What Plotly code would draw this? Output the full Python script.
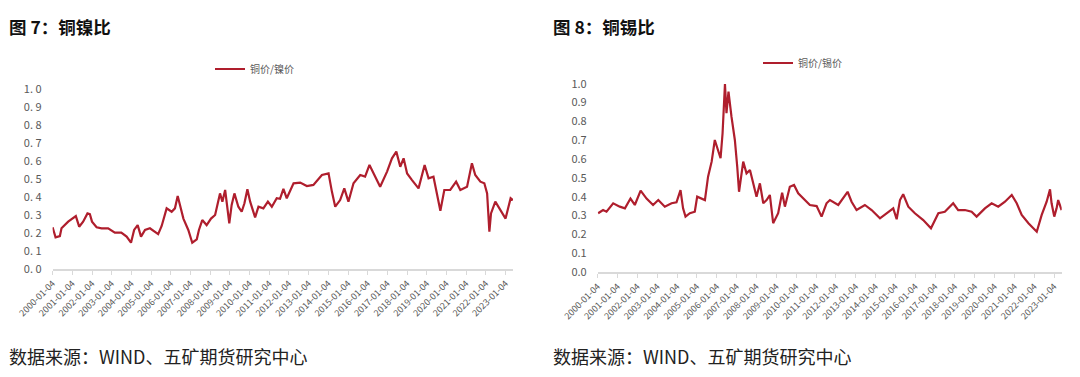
import plotly.graph_objects as go

# ---------------- data ----------------
ni_dates = ["2000-01-04","2000-02-28","2000-05-18","2000-06-17","2000-10-19","2001-03-10","2001-05-11","2001-07-23",
            "2001-10-12","2001-11-25","2002-01-04","2002-03-30","2002-07-01","2002-10-30","2003-03-04","2003-07-01",
            "2003-10-08","2003-12-28","2004-02-24","2004-04-30","2004-07-01","2004-09-13","2004-12-13","2005-05-15",
            "2005-07-19","2005-10-19","2006-01-20","2006-03-22","2006-05-12","2006-06-25","2006-08-26","2006-11-25",
            "2007-02-06","2007-05-01","2007-06-10","2007-08-11","2007-10-31","2008-01-20","2008-04-05","2008-07-05",
            "2008-08-18","2008-10-08","2008-11-25","2008-12-24","2009-02-06","2009-03-29","2009-06-10","2009-08-11",
            "2009-10-01","2009-11-25","2010-01-15","2010-04-17","2010-06-18","2010-09-17","2010-12-10","2011-02-21",
            "2011-05-23","2011-07-23","2011-09-24","2011-11-25","2012-03-30","2012-07-31","2012-12-02","2013-04-02",
            "2013-09-07","2014-01-08","2014-03-11","2014-05-12","2014-08-11","2014-10-27","2015-01-12","2015-04-16",
            "2015-08-18","2015-11-17","2016-02-06","2016-04-20","2016-08-22","2016-12-28","2017-03-29","2017-06-18",
            "2017-08-30","2017-10-31","2018-01-04","2018-04-05","2018-08-04","2018-11-25","2019-02-06","2019-05-08",
            "2019-07-13","2019-09-13","2019-11-25","2020-03-14","2020-07-01","2020-09-17","2021-01-20","2021-04-20",
            "2021-06-21","2021-09-24","2021-12-06","2022-01-27","2022-03-10","2022-04-09","2022-06-28","2022-10-01",
            "2023-01-04","2023-04-08","2023-05-22"]
ni_ratio = [0.232,0.176,0.183,0.226,0.263,0.294,0.235,0.263,
            0.309,0.305,0.263,0.232,0.226,0.226,0.202,0.202,
            0.180,0.146,0.217,0.244,0.180,0.217,0.226,0.194,
            0.239,0.337,0.318,0.337,0.406,0.356,0.280,0.217,
            0.146,0.165,0.217,0.272,0.244,0.280,0.300,0.420,
            0.374,0.439,0.318,0.254,0.356,0.420,0.346,0.318,
            0.365,0.443,0.374,0.287,0.346,0.337,0.374,0.346,
            0.393,0.390,0.445,0.393,0.476,0.480,0.461,0.467,
            0.522,0.531,0.430,0.346,0.383,0.448,0.374,0.476,
            0.522,0.513,0.578,0.531,0.457,0.541,0.615,0.652,
            0.568,0.615,0.531,0.494,0.448,0.578,0.504,0.513,
            0.411,0.324,0.439,0.439,0.485,0.439,0.457,0.587,
            0.522,0.485,0.476,0.420,0.207,0.309,0.374,0.328,
            0.280,0.393,0.383]

sn_dates = ["2000-01-12","2000-04-12","2000-06-14","2000-10-15","2001-02-13","2001-05-19","2001-08-29","2001-11-17",
            "2002-03-04","2002-06-21","2002-10-19","2003-01-23","2003-05-23","2003-09-24","2003-12-24","2004-03-07",
            "2004-04-23","2004-06-07","2004-08-26","2004-11-25","2005-01-08","2005-03-29","2005-05-30","2005-07-27",
            "2005-10-01","2005-11-28","2006-01-20","2006-03-14","2006-04-20","2006-06-03","2006-07-01","2006-08-07",
            "2006-10-01","2006-12-02","2007-01-15","2007-02-17","2007-05-05","2007-07-05","2007-09-06","2007-11-03",
            "2008-01-05","2008-03-07","2008-05-08","2008-07-08","2008-09-06","2008-11-06","2009-02-06","2009-04-20",
            "2009-06-10","2009-09-09","2009-11-25","2010-02-10","2010-05-12","2010-09-13","2011-01-15","2011-04-16",
            "2011-07-16","2011-09-17","2012-02-17","2012-05-19","2012-08-07","2012-10-19","2013-01-19","2013-06-21",
            "2013-10-23","2014-03-26","2014-07-27","2014-11-25","2015-01-27","2015-03-29","2015-05-27","2015-08-29",
            "2015-12-28","2016-05-30","2016-10-19","2017-03-04","2017-07-01","2017-12-02","2018-03-04","2018-07-05",
            "2018-11-06","2019-02-06","2019-07-09","2019-11-10","2020-03-10","2020-07-12","2020-11-14","2021-02-13",
            "2021-05-16","2021-09-17","2022-02-17","2022-05-19","2022-08-18","2022-10-19","2022-11-17","2023-01-05",
            "2023-02-17","2023-03-18","2023-05-20"]
sn_ratio = [0.312,0.329,0.320,0.365,0.347,0.338,0.390,0.356,
            0.432,0.390,0.356,0.382,0.347,0.365,0.370,0.435,
            0.338,0.294,0.312,0.320,0.400,0.390,0.382,0.506,
            0.586,0.701,0.648,0.604,0.737,0.998,0.843,0.958,
            0.825,0.701,0.559,0.426,0.586,0.524,0.542,0.471,
            0.400,0.471,0.365,0.382,0.409,0.259,0.312,0.421,
            0.347,0.453,0.462,0.418,0.390,0.356,0.350,0.294,
            0.365,0.382,0.356,0.390,0.426,0.373,0.329,0.356,
            0.329,0.285,0.312,0.338,0.280,0.382,0.413,0.347,
            0.312,0.276,0.232,0.312,0.320,0.365,0.329,0.329,
            0.320,0.294,0.338,0.365,0.347,0.373,0.409,0.365,
            0.303,0.259,0.214,0.303,0.373,0.439,0.365,0.294,
            0.338,0.382,0.329]

tick_dates = ["%d-01-04" % y for y in range(2000, 2024)]
tick_labels = ["%d-01-04" % y for y in range(2000, 2024)]
y_vals = [0.0, 0.1, 0.2, 0.3, 0.4, 0.5, 0.6, 0.7, 0.8, 0.9, 1.0]
y_text_left = ["0. 0","0. 1","0. 2","0. 3","0. 4","0. 5","0. 6","0. 7","0. 8","0. 9","1. 0"]
y_text_right = ["0.0","0.1","0.2","0.3","0.4","0.5","0.6","0.7","0.8","0.9","1.0"]

name_ni = "铜价/镍价"
name_sn = "铜价/锡价"
title_l = "<b>图 7：铜镍比</b>"
title_r = "<b>图 8：铜锡比</b>"
source = "数据来源：WIND、五矿期货研究中心"

# ---------------- figure ----------------
# the page body has an 8px margin, so the figure is 8px smaller and
# every screen position below is given in window pixels
OFF = 8
W, H = 1080 - OFF, 377 - OFF
RED = "#AF1E2D"
GRAY = "#595959"
FONT = "Noto Sans CJK SC"

fig = go.Figure()
fig.add_trace(go.Scatter(x=ni_dates, y=ni_ratio, mode="lines", name=name_ni,
                         line=dict(color=RED, width=2.2), xaxis="x", yaxis="y", legend="legend"))
fig.add_trace(go.Scatter(x=sn_dates, y=sn_ratio, mode="lines", name=name_sn,
                         line=dict(color=RED, width=2.2), xaxis="x2", yaxis="y2", legend="legend2"))

def px(v):
    return (v - OFF) / W

def py(v):
    return 1 - (v - OFF) / H

xcommon = dict(type="date", range=["2000-01-04", "2023-05-22"], tickmode="array",
               tickvals=tick_dates, ticktext=tick_labels, tickangle=-45, automargin=False,
               tickfont=dict(size=9, color=GRAY, family=FONT), showgrid=False,
               showline=True, linecolor="#D9D9D9", linewidth=1.5,
               ticks="outside", ticklen=4, tickcolor="#D9D9D9", zeroline=False)
ycommon = dict(range=[0, 1.0], tickmode="array", tickvals=y_vals, showgrid=False, automargin=False,
               showline=False, zeroline=False, ticks="", ticklabelstandoff=10)

fig.update_layout(
    width=W, height=H, margin=dict(l=0, r=0, t=0, b=0, autoexpand=False),
    paper_bgcolor="white", plot_bgcolor="white",
    font=dict(family=FONT, color=GRAY),
    xaxis=dict(domain=[px(52.6), px(513)], anchor="y", **xcommon),
    yaxis=dict(domain=[py(269), py(89)], anchor="x", ticktext=y_text_left,
               tickfont=dict(size=11, color=GRAY, family=FONT), **ycommon),
    xaxis2=dict(domain=[px(597.7), px(1061.7)], anchor="y2", **xcommon),
    yaxis2=dict(domain=[py(272), py(83.7)], anchor="x2", ticktext=y_text_right,
                tickfont=dict(size=11, color=GRAY, family=FONT), **ycommon),
    legend=dict(x=px(210), y=py(69), xanchor="left", yanchor="middle", orientation="h",
                font=dict(size=10, color=GRAY, family=FONT), bgcolor="rgba(0,0,0,0)"),
    legend2=dict(x=px(758), y=py(63), xanchor="left", yanchor="middle", orientation="h",
                 font=dict(size=10, color=GRAY, family=FONT), bgcolor="rgba(0,0,0,0)"),
    showlegend=True,
)

fig.add_annotation(text=title_l, xref="paper", yref="paper", x=px(8), y=py(26),
                   xanchor="left", yanchor="middle", showarrow=False, borderpad=0,
                   font=dict(size=17.5, color="#111111", family=FONT))
fig.add_annotation(text=title_r, xref="paper", yref="paper", x=px(552), y=py(26),
                   xanchor="left", yanchor="middle", showarrow=False, borderpad=0,
                   font=dict(size=17.5, color="#111111", family=FONT))
fig.add_annotation(text=source, xref="paper", yref="paper", x=px(8), y=py(356),
                   xanchor="left", yanchor="middle", showarrow=False, borderpad=0,
                   font=dict(size=18, color="#222222", family=FONT))
fig.add_annotation(text=source, xref="paper", yref="paper", x=px(552), y=py(356),
                   xanchor="left", yanchor="middle", showarrow=False, borderpad=0,
                   font=dict(size=18, color="#222222", family=FONT))

fig.write_html("out.html")
